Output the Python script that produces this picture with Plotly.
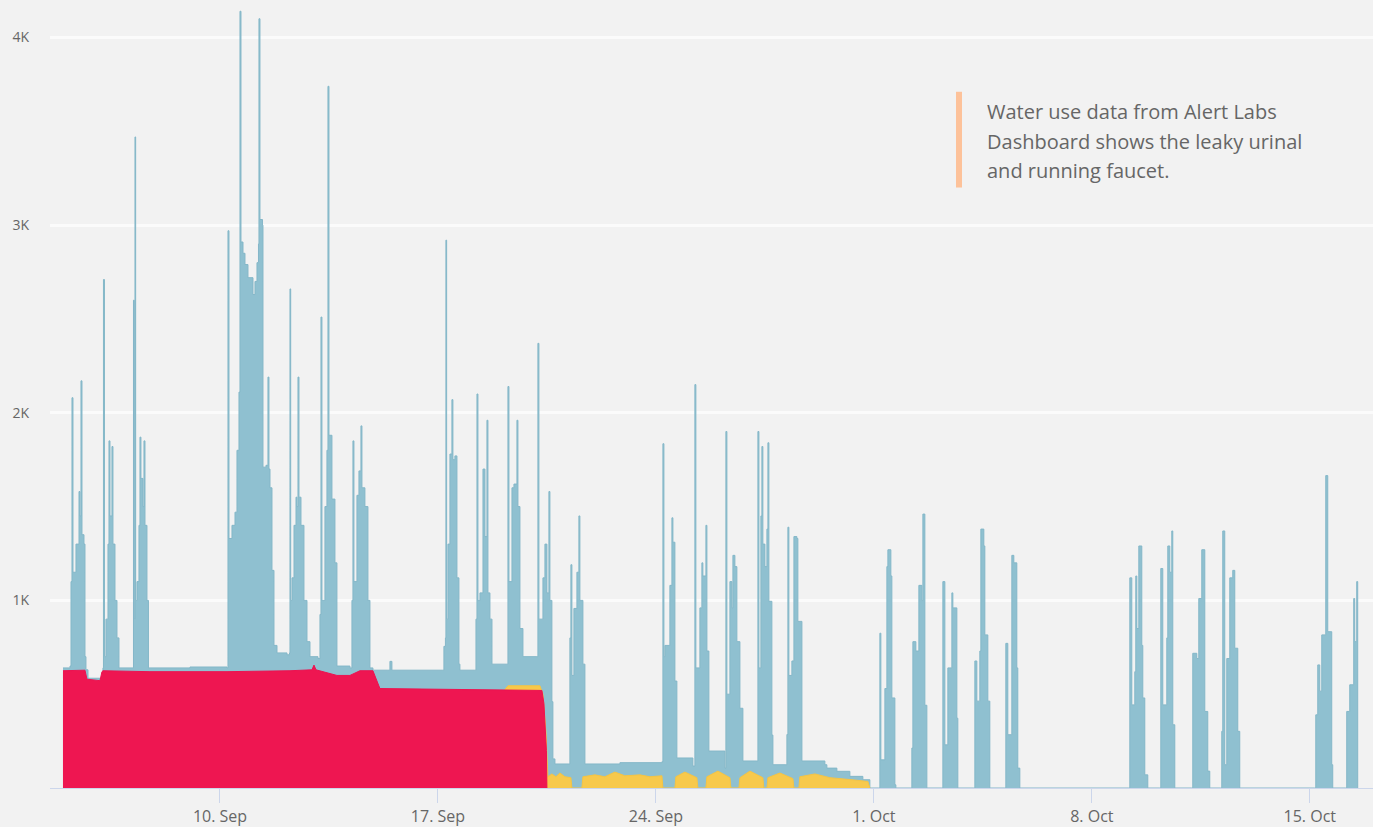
import numpy as np
import pandas as pd
import plotly.graph_objects as go

# Day numbers counted from 1 September (day 31 = 1 October), values in litres
blue_series = [
    (4.958, 640), (5.183, 650), (5.215, 1100), (5.247, 2080), (5.279, 1150), (5.375, 1300), (5.472, 1580),
    (5.504, 1450), (5.536, 2170), (5.568, 1350), (5.632, 1300), (5.664, 700), (5.696, 630), (5.761, 585),
    (6.146, 578), (6.242, 640),
    (6.258, 2710), (6.290, 700), (6.338, 900), (6.403, 1300), (6.435, 1850), (6.467, 1450), (6.531, 1820),
    (6.563, 1300), (6.628, 1000), (6.692, 800), (6.756, 640),
    (7.206, 640), (7.222, 2600), (7.247, 900), (7.270, 3470), (7.292, 1000), (7.334, 1100), (7.398, 1400),
    (7.430, 1870), (7.462, 1650), (7.527, 1500), (7.559, 1850), (7.591, 1400), (7.655, 1000), (7.703, 640),
    (9.036, 645), (10.225, 640),
    (10.257, 2970), (10.289, 1330), (10.385, 1400), (10.482, 1470), (10.546, 1800), (10.610, 2110), (10.642, 4140),
    (10.674, 2910), (10.739, 2850), (10.803, 2790), (10.899, 2720), (11.060, 2630), (11.124, 2700), (11.188, 2800),
    (11.236, 2900), (11.252, 4100), (11.284, 3030), (11.365, 3000), (11.381, 1710), (11.477, 1720), (11.541, 2190),
    (11.573, 1700), (11.606, 1600), (11.670, 1160), (11.734, 760), (11.831, 720), (12.152, 710),
    (12.232, 720), (12.248, 2660), (12.271, 1000), (12.313, 1120), (12.377, 1400), (12.441, 1550), (12.473, 1500),
    (12.505, 2190), (12.537, 1550), (12.601, 1400), (12.697, 1000), (12.794, 780), (12.890, 700), (13.147, 690),
    (13.211, 925), (13.243, 2510), (13.275, 1000), (13.371, 1500), (13.435, 1800), (13.468, 3740), (13.500, 1880),
    (13.596, 1540), (13.692, 1200), (13.756, 650), (14.174, 640),
    (14.238, 1000), (14.270, 1850), (14.302, 1100), (14.399, 1560), (14.463, 1690), (14.527, 1930), (14.559, 1600),
    (14.655, 1500), (14.752, 1000), (14.816, 640), (14.912, 628),
    (15.394, 628), (15.458, 675), (15.522, 628), (17.160, 628),
    (17.192, 755), (17.240, 800), (17.256, 2920), (17.279, 900), (17.321, 1300), (17.385, 1780), (17.449, 2070),
    (17.481, 1750), (17.545, 1770), (17.610, 1120), (17.674, 660), (17.706, 628),
    (18.188, 628), (18.221, 900), (18.253, 2100), (18.285, 1000), (18.349, 1040), (18.446, 1700), (18.510, 1340),
    (18.574, 1960), (18.606, 1040), (18.670, 900), (18.735, 660),
    (19.184, 660), (19.248, 2140), (19.280, 1100), (19.377, 1600), (19.441, 1620), (19.537, 1960), (19.569, 1500),
    (19.633, 850), (19.730, 700),
    (20.179, 700), (20.211, 2370), (20.243, 900), (20.372, 1120), (20.436, 1300), (20.500, 1040), (20.564, 1580),
    (20.596, 1000), (20.660, 460), (20.692, 155), (20.757, 128),
    (21.206, 128), (21.238, 800), (21.270, 1190), (21.302, 600), (21.367, 957), (21.463, 1150), (21.527, 1450),
    (21.559, 1000), (21.656, 660), (21.720, 128),
    (22.844, 135), (24.193, 140),
    (24.225, 1835), (24.257, 700), (24.289, 760), (24.449, 1080), (24.514, 1440), (24.546, 1310), (24.610, 570),
    (24.674, 160),
    (25.188, 117), (25.252, 2150), (25.284, 640), (25.413, 960), (25.477, 1200), (25.509, 1130), (25.606, 1400),
    (25.638, 730), (25.702, 197),
    (26.216, 106), (26.248, 1900), (26.280, 500), (26.377, 1100), (26.441, 960), (26.473, 1240), (26.537, 1180),
    (26.601, 780), (26.698, 425), (26.794, 144),
    (27.243, 144), (27.276, 1900), (27.308, 640), (27.372, 1450), (27.404, 1820), (27.436, 1300), (27.501, 1180),
    (27.565, 1380), (27.597, 1840), (27.629, 995), (27.725, 282), (27.758, 124),
    (28.175, 124), (28.207, 285), (28.239, 1390), (28.271, 600), (28.367, 677), (28.432, 1340), (28.528, 1330),
    (28.560, 888), (28.689, 144),
    (29.427, 124), (29.491, 106), (29.812, 89), (30.230, 62), (30.647, 44), (30.872, 0),
    (31.161, 0), (31.193, 825), (31.225, 150), (31.354, 530), (31.418, 1180), (31.450, 1270), (31.546, 1130),
    (31.578, 480), (31.675, 17), (31.707, 0),
    (32.188, 0), (32.220, 213), (32.253, 780), (32.349, 730), (32.445, 1080), (32.542, 1000), (32.574, 1460),
    (32.638, 441), (32.702, 0),
    (33.184, 0), (33.216, 1100), (33.280, 230), (33.376, 640), (33.505, 1040), (33.537, 960), (33.665, 372),
    (33.697, 0),
    (34.211, 0), (34.243, 677), (34.307, 463), (34.403, 730), (34.436, 1380), (34.532, 1290), (34.564, 816),
    (34.660, 463), (34.724, 0),
    (35.206, 0), (35.238, 771), (35.302, 284), (35.431, 1240), (35.495, 1200), (35.591, 640), (35.623, 106),
    (35.688, 0),
    (39.188, 0), (39.220, 1120), (39.284, 443), (39.380, 620), (39.412, 1130), (39.445, 850), (39.509, 1290),
    (39.605, 760), (39.637, 480), (39.701, 70), (39.798, 0),
    (40.183, 0), (40.215, 1170), (40.279, 443), (40.408, 800), (40.440, 1290), (40.504, 1150), (40.568, 1370),
    (40.600, 337), (40.665, 0),
    (41.210, 0), (41.242, 718), (41.371, 690), (41.435, 1010), (41.531, 1270), (41.628, 408), (41.724, 90),
    (41.788, 0),
    (42.141, 0), (42.173, 302), (42.205, 1370), (42.269, 124), (42.334, 690), (42.430, 1120), (42.526, 1160),
    (42.591, 745), (42.687, 302), (42.751, 0),
    (45.160, 0), (45.192, 390), (45.256, 656), (45.320, 516), (45.384, 816), (45.513, 1665), (45.577, 833),
    (45.705, 124), (45.737, 0),
    (46.154, 0), (46.186, 408), (46.283, 550), (46.411, 1010), (46.443, 780), (46.507, 1100), (46.539, 0),
]

red_series = [
    (4.958, 625), (5.664, 628), (5.728, 580), (6.146, 572), (6.210, 620), (6.242, 625), (7.751, 620),
    (10.225, 620), (12.248, 625), (12.954, 630), (13.019, 655), (13.083, 630), (13.756, 600), (14.174, 600),
    (14.495, 625), (14.912, 625), (15.137, 530), (19.312, 525), (20.339, 520), (20.404, 450), (20.484, 200),
    (20.500, 0),
]

yellow_series = [
    (19.151, 525), (19.248, 545), (20.275, 545), (20.372, 500), (20.468, 300), (20.532, 60), (20.660, 75),
    (20.789, 60), (20.917, 80), (21.078, 60), (21.270, 55), (21.302, 0), (21.623, 0), (21.656, 60),
    (22.041, 70), (22.362, 60), (22.683, 85), (23.004, 65), (23.486, 70), (23.807, 60), (24.193, 65),
    (24.225, 0), (24.610, 0), (24.642, 60), (24.931, 85), (25.316, 55), (25.348, 0), (25.605, 0),
    (25.638, 60), (25.991, 90), (26.377, 55), (26.409, 0), (26.666, 0), (26.698, 55), (27.019, 90),
    (27.436, 55), (27.468, 0), (27.565, 0), (27.597, 55), (27.982, 80), (28.400, 50), (28.432, 0),
    (28.592, 0), (28.624, 60), (29.106, 75), (29.587, 55), (30.230, 45), (30.808, 35), (30.872, 0),
]

tick_days = [10, 17, 24, 31, 38, 45]
tick_labels = ["10. Sep", "17. Sep", "24. Sep", "1. Oct", "8. Oct", "15. Oct"]
y_ticks = [1000, 2000, 3000, 4000]
y_labels = ["1K", "2K", "3K", "4K"]
note_lines = ["Water use data from Alert Labs", "Dashboard shows the leaky urinal", "and running faucet."]

BASE = pd.Timestamp("2018-09-01")


def to_dates(days):
    return BASE + pd.to_timedelta(np.asarray(days, dtype=float) - 1.0, unit="D")


def split(series):
    d, v = zip(*series)
    return to_dates(d), list(v)


fig = go.Figure()
bx, by = split(blue_series)
fig.add_trace(go.Scatter(x=bx, y=by, mode="lines", fill="tozeroy",
                         line=dict(color="#84b7c8", width=1, shape="hv"), fillcolor="#8fc0d0",
                         hoverinfo="skip", name="Other use"))
yx, yy = split(yellow_series)
fig.add_trace(go.Scatter(x=yx, y=yy, mode="lines", fill="tozeroy",
                         line=dict(color="#f4c445", width=1), fillcolor="#f7c94c",
                         hoverinfo="skip", name="Running faucet"))
rx, ry = split(red_series)
fig.add_trace(go.Scatter(x=rx, y=ry, mode="lines", fill="tozeroy",
                         line=dict(color="#ec1250", width=1), fillcolor="#ee1651",
                         hoverinfo="skip", name="Leaky urinal"))

fig.update_layout(
    width=1373, height=827,
    margin=dict(l=50, r=0, t=0, b=37),
    paper_bgcolor="#f2f2f2", plot_bgcolor="#f2f2f2",
    showlegend=False,
    font=dict(family="Open Sans, sans-serif", color="#666666"),
    xaxis=dict(
        type="date",
        range=[to_dates([4.541])[0], to_dates([47.03])[0]],
        tickvals=to_dates(tick_days), ticktext=tick_labels,
        ticks="outside", ticklen=14, tickcolor="#ccd6eb", tickwidth=1,
        showline=True, linecolor="#ccd6eb", linewidth=1,
        showgrid=False, zeroline=False,
        tickfont=dict(size=16, color="#666666"),
    ),
    yaxis=dict(
        range=[0, 4200],
        tickvals=y_ticks, ticktext=y_labels,
        showgrid=True, gridcolor="#fbfbfb", gridwidth=3,
        zeroline=False, showline=False, ticks="",
        ticklabelstandoff=20,
        tickfont=dict(size=14, color="#666666"),
    ),
)

# orange quote bar
fig.add_shape(type="rect", xref="paper", yref="paper",
              x0=(956 - 50) / 1323, x1=(962 - 50) / 1323,
              y0=(790 - 188) / 790, y1=(790 - 92) / 790,
              fillcolor="#fdc29a", line=dict(width=0), layer="above")

for i, line in enumerate(note_lines):
    ypix = 112 + i * 29.5
    fig.add_annotation(xref="paper", yref="paper",
                       x=(985 - 50) / 1323, y=(790 - ypix) / 790,
                       xanchor="left", yanchor="middle", showarrow=False,
                       text=line, font=dict(family="Open Sans, sans-serif", size=20, color="#666666"))

fig.write_html("out.html", config={"displayModeBar": False},
               post_script="document.body.style.margin='0';document.body.style.overflow='hidden';")
